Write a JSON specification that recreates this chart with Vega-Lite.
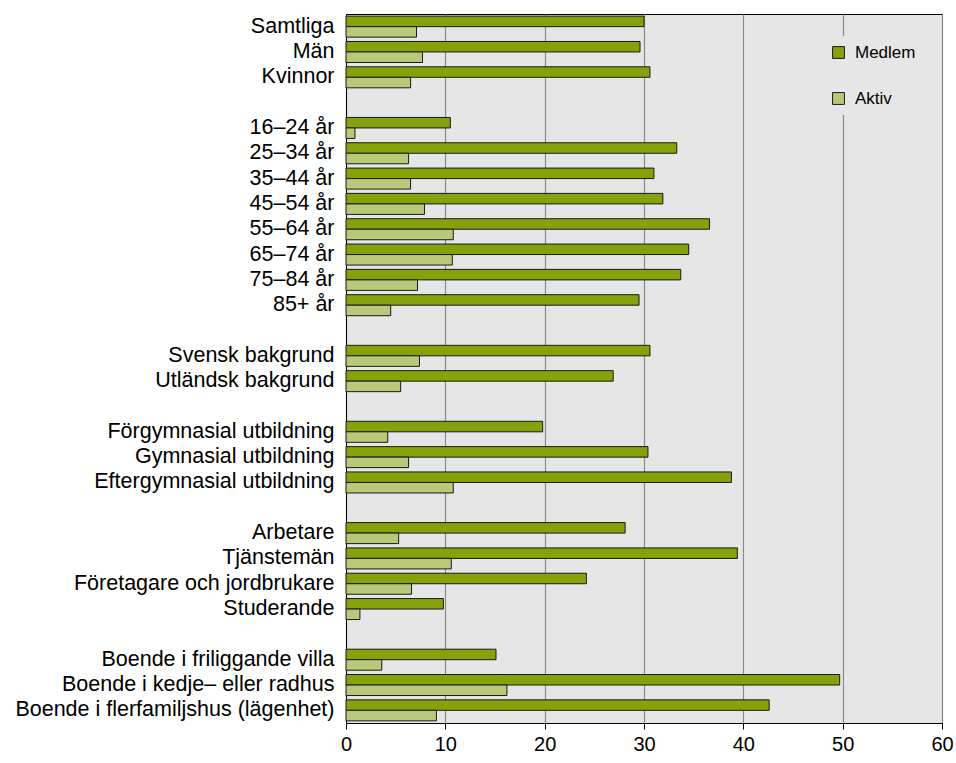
{
  "$schema": "https://vega.github.io/schema/vega-lite/v6.json",
  "autosize": {"type": "none"},
  "padding": {"left": 346, "top": 14, "right": 14, "bottom": 40},
  "width": 596,
  "height": 709,
  "background": "white",
  "config": {
    "font": "Liberation Sans",
    "view": {"fill": "#E6E6E6", "stroke": "#000000", "strokeWidth": 1}
  },
  "data": {
    "values": [
      {"kategori": "Samtliga", "serie": "Medlem", "varde": 30.0},
      {"kategori": "Samtliga", "serie": "Aktiv", "varde": 7.1},
      {"kategori": "Män", "serie": "Medlem", "varde": 29.6},
      {"kategori": "Män", "serie": "Aktiv", "varde": 7.7},
      {"kategori": "Kvinnor", "serie": "Medlem", "varde": 30.6},
      {"kategori": "Kvinnor", "serie": "Aktiv", "varde": 6.5},
      {"kategori": "16–24 år", "serie": "Medlem", "varde": 10.5},
      {"kategori": "16–24 år", "serie": "Aktiv", "varde": 0.9},
      {"kategori": "25–34 år", "serie": "Medlem", "varde": 33.3},
      {"kategori": "25–34 år", "serie": "Aktiv", "varde": 6.3},
      {"kategori": "35–44 år", "serie": "Medlem", "varde": 31.0},
      {"kategori": "35–44 år", "serie": "Aktiv", "varde": 6.5},
      {"kategori": "45–54 år", "serie": "Medlem", "varde": 31.9},
      {"kategori": "45–54 år", "serie": "Aktiv", "varde": 7.9},
      {"kategori": "55–64 år", "serie": "Medlem", "varde": 36.6},
      {"kategori": "55–64 år", "serie": "Aktiv", "varde": 10.8},
      {"kategori": "65–74 år", "serie": "Medlem", "varde": 34.5},
      {"kategori": "65–74 år", "serie": "Aktiv", "varde": 10.7},
      {"kategori": "75–84 år", "serie": "Medlem", "varde": 33.7},
      {"kategori": "75–84 år", "serie": "Aktiv", "varde": 7.2},
      {"kategori": "85+ år", "serie": "Medlem", "varde": 29.5},
      {"kategori": "85+ år", "serie": "Aktiv", "varde": 4.5},
      {"kategori": "Svensk bakgrund", "serie": "Medlem", "varde": 30.6},
      {"kategori": "Svensk bakgrund", "serie": "Aktiv", "varde": 7.4},
      {"kategori": "Utländsk bakgrund", "serie": "Medlem", "varde": 26.9},
      {"kategori": "Utländsk bakgrund", "serie": "Aktiv", "varde": 5.5},
      {"kategori": "Förgymnasial utbildning", "serie": "Medlem", "varde": 19.8},
      {"kategori": "Förgymnasial utbildning", "serie": "Aktiv", "varde": 4.2},
      {"kategori": "Gymnasial utbildning", "serie": "Medlem", "varde": 30.4},
      {"kategori": "Gymnasial utbildning", "serie": "Aktiv", "varde": 6.3},
      {"kategori": "Eftergymnasial utbildning", "serie": "Medlem", "varde": 38.8},
      {"kategori": "Eftergymnasial utbildning", "serie": "Aktiv", "varde": 10.8},
      {"kategori": "Arbetare", "serie": "Medlem", "varde": 28.1},
      {"kategori": "Arbetare", "serie": "Aktiv", "varde": 5.3},
      {"kategori": "Tjänstemän", "serie": "Medlem", "varde": 39.4},
      {"kategori": "Tjänstemän", "serie": "Aktiv", "varde": 10.6},
      {"kategori": "Företagare och jordbrukare", "serie": "Medlem", "varde": 24.2},
      {"kategori": "Företagare och jordbrukare", "serie": "Aktiv", "varde": 6.6},
      {"kategori": "Studerande", "serie": "Medlem", "varde": 9.8},
      {"kategori": "Studerande", "serie": "Aktiv", "varde": 1.4},
      {"kategori": "Boende i friliggande villa", "serie": "Medlem", "varde": 15.1},
      {"kategori": "Boende i friliggande villa", "serie": "Aktiv", "varde": 3.6},
      {"kategori": "Boende i kedje– eller radhus", "serie": "Medlem", "varde": 49.7},
      {"kategori": "Boende i kedje– eller radhus", "serie": "Aktiv", "varde": 16.2},
      {"kategori": "Boende i flerfamiljshus (lägenhet)", "serie": "Medlem", "varde": 42.6},
      {"kategori": "Boende i flerfamiljshus (lägenhet)", "serie": "Aktiv", "varde": 9.1}
    ]
  },
  "mark": {"type": "bar", "stroke": "#1a1a1a", "strokeWidth": 1},
  "encoding": {
    "y": {
      "field": "kategori",
      "type": "nominal",
      "title": null,
      "scale": {
        "domain": ["Samtliga", "Män", "Kvinnor", " ",
          "16–24 år", "25–34 år", "35–44 år", "45–54 år", "55–64 år", "65–74 år", "75–84 år", "85+ år", "  ",
          "Svensk bakgrund", "Utländsk bakgrund", "   ",
          "Förgymnasial utbildning", "Gymnasial utbildning", "Eftergymnasial utbildning", "    ",
          "Arbetare", "Tjänstemän", "Företagare och jordbrukare", "Studerande", "     ",
          "Boende i friliggande villa", "Boende i kedje– eller radhus", "Boende i flerfamiljshus (lägenhet)"],
        "paddingInner": 0.17,
        "paddingOuter": 0.085
      },
      "axis": {
        "ticks": false,
        "domain": true,
        "domainColor": "#000000",
        "labelFontSize": 21.5,
        "labelColor": "#000000",
        "labelPadding": 12,
        "labelLimit": 400
      }
    },
    "yOffset": {
      "field": "serie",
      "type": "nominal",
      "sort": ["Medlem", "Aktiv"]
    },
    "x": {
      "field": "varde",
      "type": "quantitative",
      "title": null,
      "scale": {"domain": [0, 60], "nice": false},
      "axis": {
        "values": [0, 10, 20, 30, 40, 50, 60],
        "grid": true,
        "gridColor": "#8a8a8a",
        "gridWidth": 1.2,
        "domainColor": "#000000",
        "tickColor": "#000000",
        "tickSize": 6,
        "labelFontSize": 20,
        "labelColor": "#000000",
        "labelPadding": 5,
        "labelFlush": false
      }
    },
    "color": {
      "field": "serie",
      "type": "nominal",
      "scale": {"domain": ["Medlem", "Aktiv"], "range": ["#86A20A", "#BAC87A"]},
      "legend": {
        "title": null,
        "orient": "none",
        "legendX": 476,
        "legendY": 22,
        "symbolType": "square",
        "symbolSize": 140,
        "symbolStrokeColor": "#1a1a1a",
        "symbolStrokeWidth": 1,
        "labelFontSize": 17,
        "labelColor": "#000000",
        "labelOffset": 8,
        "rowPadding": 28,
        "fillColor": "#E6E6E6",
        "padding": 8
      }
    }
  }
}
